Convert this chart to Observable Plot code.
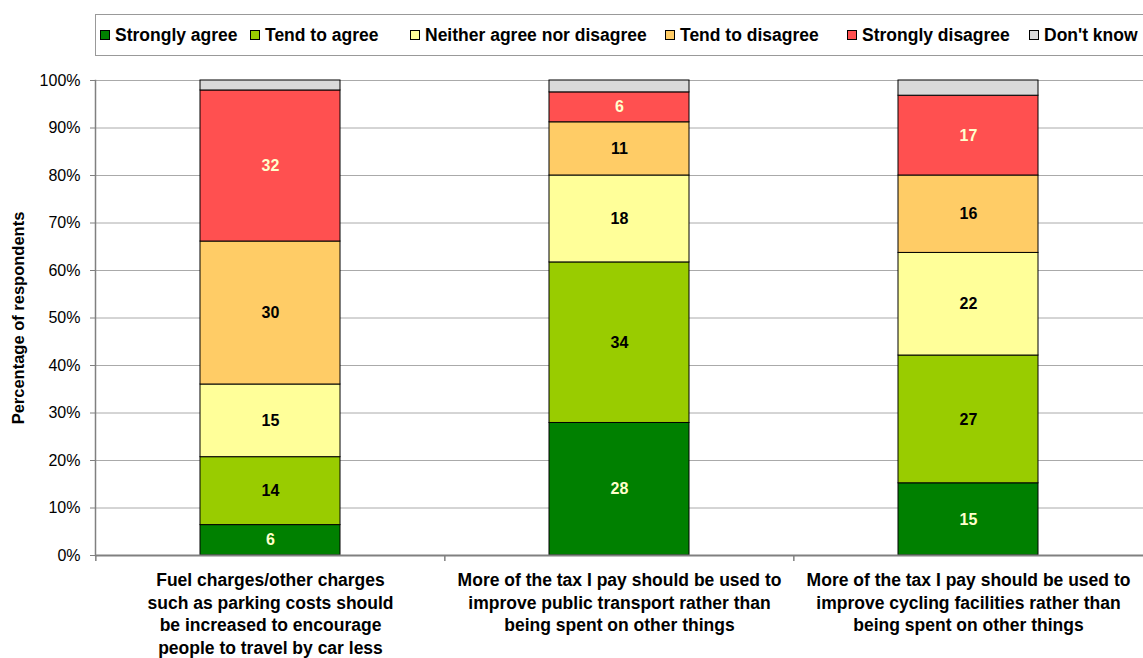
<!DOCTYPE html>
<html>
<head>
<meta charset="utf-8">
<script src="https://cdn.jsdelivr.net/npm/d3@7"></script>
<script src="https://cdn.jsdelivr.net/npm/@observablehq/plot@0.6"></script>
<style>
  html, body { margin: 0; padding: 0; background: #fff; overflow: hidden; width: 1143px; height: 658px; }
  body { font-family: "Liberation Sans", Arial, sans-serif; position: relative; }
  #legend {
    position: absolute; left: 95px; top: 14px; width: 1048px; height: 42px;
    border: 1px solid #999; border-right: none; box-sizing: border-box;
    font-weight: bold; font-size: 17.5px; color: #000; white-space: nowrap;
  }
  .item { position: absolute; top: 0; height: 40px; display: flex; align-items: center; }
  .sw { width: 8px; height: 8px; border: 1px solid #000; margin-right: 5px; }
  #chart { position: absolute; left: 0; top: 60px; width: 1143px; }
  #chart svg { max-width: none !important; }
</style>
</head>
<body>
<div id="legend"></div>
<div id="chart"></div>
<script>
const categories = [
  "Fuel charges/other charges\nsuch as parking costs should\nbe increased to encourage\npeople to travel by car less",
  "More of the tax I pay should be used to\nimprove public transport rather than\nbeing spent on other things",
  "More of the tax I pay should be used to\nimprove cycling facilities rather than\nbeing spent on other things"
];
const responses = ["Strongly agree", "Tend to agree", "Neither agree nor disagree", "Tend to disagree", "Strongly disagree", "Don't know"];
const colors = ["#008000", "#99CC00", "#FFFF99", "#FFCC66", "#FF5050", "#D9D9D9"];
const labelColors = ["#FFFFCC", "#000", "#000", "#000", "#FFFFCC", "#000"];
// percentages per category, in response order
const stronglyAgree    = [6.4, 27.9, 15.2];
const tendToAgree      = [14.3, 33.8, 26.9];
const neither          = [15.3, 18.3, 21.6];
const tendToDisagree   = [30.1, 11.2, 16.3];
const stronglyDisagree = [31.8, 6.3, 16.8];
const dontKnow         = [2.1, 2.5, 3.2];
const yTicks = [0, 10, 20, 30, 40, 50, 60, 70, 80, 90, 100];

const series = [stronglyAgree, tendToAgree, neither, tendToDisagree, stronglyDisagree, dontKnow];
const data = [];
categories.forEach((c, ci) => {
  responses.forEach((r, ri) => {
    data.push({category: c, response: r, ri, value: series[ri][ci]});
  });
});

// legend (item left offsets inside the legend box)
const legendLeft = [4, 154, 314, 569, 751, 933];
const leg = document.getElementById("legend");
responses.forEach((r, i) => {
  const it = document.createElement("div");
  it.className = "item";
  it.style.left = legendLeft[i] + "px";
  const sw = document.createElement("div");
  sw.className = "sw";
  sw.style.background = colors[i];
  const t = document.createElement("span");
  t.textContent = r;
  it.appendChild(sw); it.appendChild(t);
  leg.appendChild(it);
});

const W = 1143, marginLeft = 95, marginRight = 0;
const step = (W - marginLeft - marginRight) / categories.length;

const chart = Plot.plot({
  width: W,
  height: 598,
  marginLeft, marginRight,
  marginTop: 20,
  marginBottom: 103,
  style: {fontFamily: "'Liberation Sans', Arial, sans-serif", fontSize: "16px", color: "#000", background: "transparent"},
  x: {domain: categories, paddingInner: 0.6, paddingOuter: 0.3, label: null},
  y: {domain: [0, 100], label: null},
  color: {domain: responses, range: colors},
  marks: [
    Plot.gridY(yTicks, {stroke: "#aaa", strokeOpacity: 1, strokeWidth: 1}),
    Plot.barY(data, Plot.stackY({x: "category", y: "value", fill: "response", order: "ri", stroke: "#000", strokeWidth: 1})),
    Plot.text(data.filter(d => d.ri < 5), Plot.stackY({
      x: "category", y: "value", order: "ri", z: "response",
      text: d => String(Math.round(d.value)),
      fill: d => labelColors[d.ri],
      fontWeight: "bold", fontSize: 16
    })),
    Plot.frame({anchor: "left", stroke: "#808080", strokeWidth: 1.5}),
    Plot.ruleY([0], {stroke: "#808080", strokeWidth: 2}),
    Plot.ruleX(categories, {x: d => d, dx: -step / 2, y1: 0, y2: 0, insetBottom: -6, stroke: "#808080", strokeWidth: 1.5}),
    Plot.axisY(yTicks, {
      tickFormat: d => d + "%", tickSize: 5, tickPadding: 10, stroke: "#808080",
      fontSize: 16, fill: "#000", label: null
    }),
    Plot.text(["Percentage of respondents"], {
      frameAnchor: "left", dx: -77, rotate: -90, textAnchor: "middle", text: d => d,
      fontWeight: "bold", fontSize: 16.5, fill: "#000"
    }),
    Plot.axisX({
      tickSize: 0, tickPadding: 15, fontWeight: "bold", fontSize: 17.5, fill: "#000",
      lineHeight: 1.28, label: null
    })
  ]
});
document.getElementById("chart").appendChild(chart);
</script>
</body>
</html>
